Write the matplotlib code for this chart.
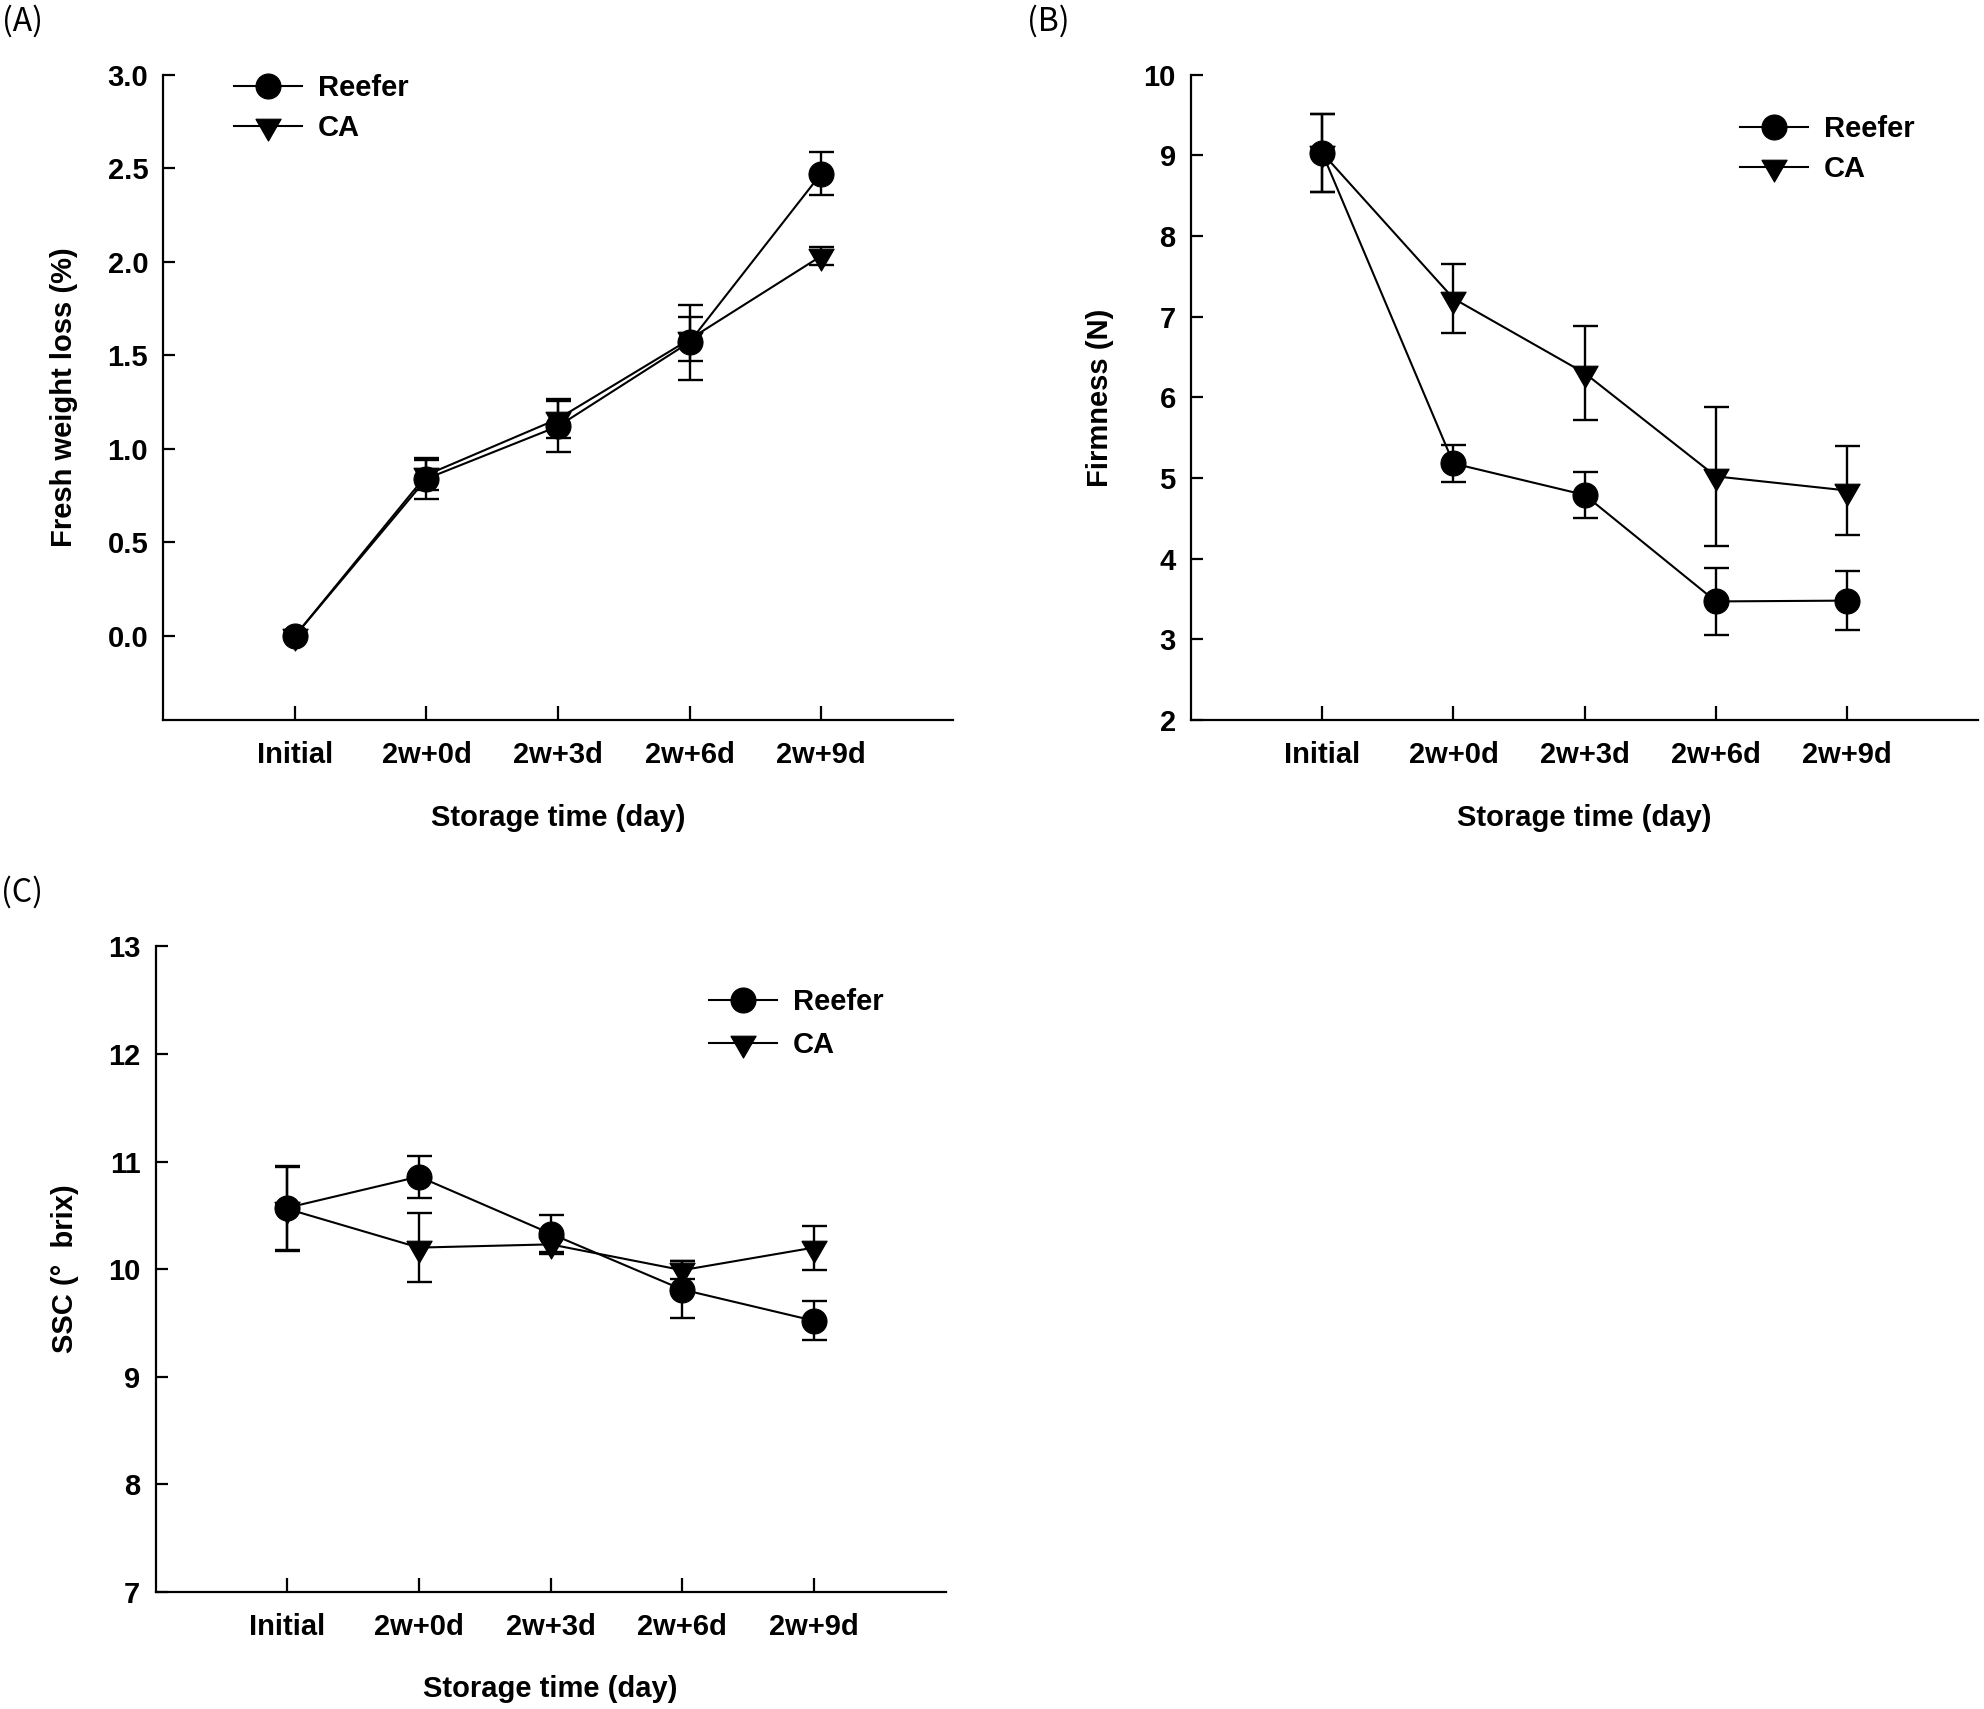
import matplotlib
matplotlib.use("Agg")
import matplotlib.pyplot as plt
from matplotlib.ticker import FormatStrFormatter

plt.rcParams['font.family'] = ['Liberation Sans', 'DejaVu Sans']
plt.rcParams['font.weight'] = 'bold'
plt.rcParams['axes.labelweight'] = 'bold'

categories = ["Initial", "2w+0d", "2w+3d", "2w+6d", "2w+9d"]
series_names = ["Reefer", "CA"]

# (A) Fresh weight loss (%)
fwl_reefer = [0.0, 0.84, 1.12, 1.57, 2.47]
fwl_reefer_err = [0.0, 0.11, 0.135, 0.20, 0.115]
fwl_ca = [0.0, 0.86, 1.16, 1.585, 2.03]
fwl_ca_err = [0.0, 0.08, 0.105, 0.117, 0.048]

# (B) Firmness (N)
firm_reefer = [9.03, 5.18, 4.79, 3.47, 3.48]
firm_reefer_err = [0.48, 0.235, 0.28, 0.42, 0.37]
firm_ca = [9.03, 7.225, 6.30, 5.02, 4.845]
firm_ca_err = [0.48, 0.425, 0.58, 0.86, 0.555]

# (C) SSC (° brix)
ssc_reefer = [10.57, 10.86, 10.33, 9.81, 9.52]
ssc_reefer_err = [0.39, 0.195, 0.17, 0.265, 0.18]
ssc_ca = [10.56, 10.20, 10.23, 9.99, 10.20]
ssc_ca_err = [0.39, 0.32, 0.09, 0.085, 0.205]

FS = 21
# down-pointing triangle centred on its centroid
TRI = [(-0.866, 0.5), (0.866, 0.5), (0.0, -1.0), (-0.866, 0.5)]

fig = plt.figure(figsize=(19.84, 17.09), dpi=100)

def panel(rect, reefer, reefer_err, ca, ca_err, ylim, yticks, yfmt, ylabel,
          leg_anchor, leg_spacing):
    ax = fig.add_axes(rect)
    x = list(range(len(categories)))
    # CA first (below), then Reefer on top
    ax.errorbar(x, ca, yerr=ca_err, fmt='none', ecolor='black',
                elinewidth=1.7, capsize=9, capthick=1.7, zorder=2)
    l_ca, = ax.plot(x, ca, color='black', lw=1.5, marker=TRI, markersize=21,
                    markerfacecolor='black', markeredgecolor='black',
                    markeredgewidth=0.8, label=series_names[1], zorder=3)
    ax.errorbar(x, reefer, yerr=reefer_err, fmt='none', ecolor='black',
                elinewidth=1.7, capsize=9, capthick=1.7, zorder=4)
    l_re, = ax.plot(x, reefer, color='black', lw=1.5, marker='o', markersize=18,
                    markerfacecolor='black', markeredgecolor='black',
                    markeredgewidth=0.8, label=series_names[0], zorder=5)
    ax.set_xlim(-1, 5)
    ax.set_ylim(*ylim)
    ax.set_xticks(x)
    ax.set_xticklabels(categories)
    ax.set_yticks(yticks)
    ax.yaxis.set_major_formatter(FormatStrFormatter(yfmt))
    for s in ['top', 'right']:
        ax.spines[s].set_visible(False)
    for s in ['left', 'bottom']:
        ax.spines[s].set_linewidth(1.6)
    ax.tick_params(axis='x', direction='in', length=10, width=1.6,
                   labelsize=FS, pad=15)
    ax.tick_params(axis='y', direction='in', length=8.5, width=1.6,
                   labelsize=FS, pad=11)
    for lab in ax.get_xticklabels() + ax.get_yticklabels():
        lab.set_fontweight('bold')
    ax.set_xlabel("Storage time (day)", fontsize=FS, fontweight='bold',
                  labelpad=25)
    ax.set_ylabel(ylabel, fontsize=FS, fontweight='bold', labelpad=21)
    ax.legend(handles=[l_re, l_ca], loc='center left', bbox_to_anchor=leg_anchor,
              frameon=False, borderpad=0, borderaxespad=0,
              handlelength=2.33, handletextpad=0.55, labelspacing=leg_spacing,
              numpoints=1, prop={'weight': 'bold', 'size': FS})
    return ax

axA = panel([0.0824, 0.5787, 0.3977, 0.3776], fwl_reefer, fwl_reefer_err,
            fwl_ca, fwl_ca_err, (-0.45, 3.0), [0.0, 0.5, 1.0, 1.5, 2.0, 2.5, 3.0],
            '%.1f', "Fresh weight loss (%)", (0.0894, 0.9485), 0.42)
axB = panel([0.6003, 0.5787, 0.3969, 0.3776], firm_reefer, firm_reefer_err,
            firm_ca, firm_ca_err, (2, 10), [2, 3, 4, 5, 6, 7, 8, 9, 10],
            '%d', "Firmness (N)", (0.697, 0.8843), 0.42)
axC = panel([0.0784, 0.0686, 0.3982, 0.3776], ssc_reefer, ssc_reefer_err,
            ssc_ca, ssc_ca_err, (7, 13), [7, 8, 9, 10, 11, 12, 13],
            '%d', "SSC (°  brix)", (0.700, 0.8802), 0.5)

letter_font = dict(fontsize=23, fontweight='normal',
                   family=['Noto Sans CJK KR', 'DejaVu Sans'],
                   ha='left', va='center')
fig.text(0.001, 0.9877, "(A)", **letter_font)
fig.text(0.5176, 0.9877, "(B)", **letter_font)
fig.text(0.0005, 0.478, "(C)", **letter_font)

fig.savefig("out.png", dpi=100)
